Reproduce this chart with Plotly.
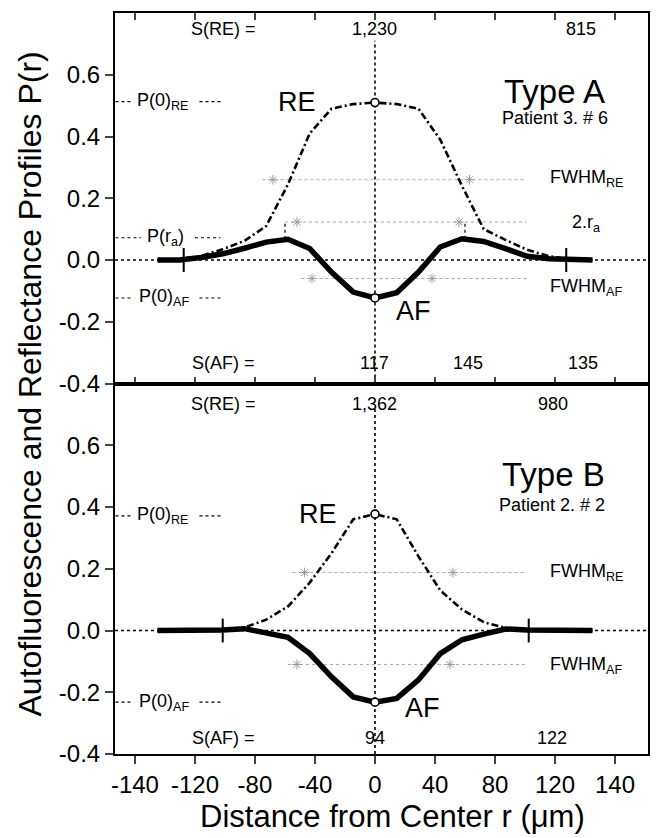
import plotly.graph_objects as go
from plotly.subplots import make_subplots

# ---------------- data ----------------
r = [-145, -130.5, -116, -101.5, -87, -72.5, -58, -43.5, -29, -14.5, 0,
     14.5, 29, 43.5, 58, 72.5, 87, 101.5, 116, 130.5, 145]

re_a = [0, 0.003, 0.013, 0.035, 0.062, 0.11, 0.245, 0.41, 0.49, 0.505, 0.51,
        0.505, 0.49, 0.39, 0.24, 0.10, 0.065, 0.033, 0.012, 0.002, 0]
af_a = [0, 0, 0.008, 0.02, 0.038, 0.058, 0.067, 0.037, -0.039, -0.104, -0.123,
        -0.106, -0.039, 0.042, 0.069, 0.06, 0.037, 0.012, 0.004, 0, 0]

re_b = [0, 0, 0, 0.002, 0.01, 0.035, 0.078, 0.155, 0.25, 0.36, 0.377,
        0.36, 0.24, 0.13, 0.068, 0.027, 0.008, 0, 0, 0, 0]
af_b = [0, 0, 0, 0.002, 0.006, -0.006, -0.022, -0.075, -0.15, -0.215, -0.232,
        -0.22, -0.16, -0.075, -0.03, -0.012, 0.005, 0.002, 0, 0, 0]

x_tickvals = [-160, -120, -80, -40, 0, 40, 80, 120, 160]
x_ticktext = ["-140", "-120", "-80", "-40", "0", "40", "80", "120", "140"]
y_tickvals = [-0.4, -0.2, 0.0, 0.2, 0.4, 0.6]
y_ticktext = ["-0.4", "-0.2", "0.0", "0.2", "0.4", "0.6"]

cross_a = [-127.5, 127.5]
cross_b = [-101.5, 102.5]

# FWHM guide lines: (level, start, end)
guides_a = [(0.26, -75, 101), (0.123, -60, 101), (-0.06, -49, 101)]
guides_b = [(0.188, -55, 101), (-0.11, -58, 101)]
scrib_a_x = [-68, 63, -52, 56, -42, 38]
scrib_a_y = [0.26, 0.26, 0.123, 0.123, -0.06, -0.06]
scrib_b_x = [-47, 52, -52, 50]
scrib_b_y = [0.188, 0.188, -0.11, -0.11]

FONT = "Liberation Sans, Arial, Helvetica, sans-serif"
XR = [-173.3, 182]
YR = [-0.4, 0.8]

fig = make_subplots(rows=2, cols=1, shared_xaxes=False, vertical_spacing=0)


def line(row, xs, ys, color="black", width=1.5, dash="dot"):
    fig.add_trace(go.Scatter(x=xs, y=ys, mode="lines", showlegend=False,
                             hoverinfo="skip",
                             line=dict(color=color, width=width, dash=dash)),
                  row=row, col=1)


for row, re_v, af_v, cross, guides, sx, sy, p0re, p0af in [
        (1, re_a, af_a, cross_a, guides_a, scrib_a_x, scrib_a_y, 0.513, -0.123),
        (2, re_b, af_b, cross_b, guides_b, scrib_b_x, scrib_b_y, 0.371, -0.232)]:
    # zero lines
    line(row, XR, [0, 0], width=1.6, dash="dot")
    line(row, [0, 0], [-0.4, 0.71 if row == 1 else 0.72], width=1.6, dash="dot")
    # guides
    for lv, a, b in guides:
        line(row, [a, b], [lv, lv], color="#a8a8a8", width=1, dash="dot")
    fig.add_trace(go.Scatter(x=sx, y=sy, mode="markers", showlegend=False,
                             hoverinfo="skip",
                             marker=dict(symbol="asterisk-open", size=8,
                                         color="#9a9a9a",
                                         line=dict(color="#9a9a9a", width=1))),
                  row=row, col=1)
    # leader lines for labels
    for lv in (p0re, p0af):
        line(row, [-173, -162], [lv, lv], width=1.2)
        line(row, [-117, -101], [lv, lv], width=1.2)
    # curves
    fig.add_trace(go.Scatter(x=r, y=re_v, mode="lines", showlegend=False,
                             line=dict(color="black", width=2.6,
                                       dash="7px,3px,2px,3px")),
                  row=row, col=1)
    fig.add_trace(go.Scatter(x=r, y=af_v, mode="lines", showlegend=False,
                             line=dict(color="black", width=5.5)),
                  row=row, col=1)
    fig.add_trace(go.Scatter(x=cross, y=[0, 0], mode="markers", showlegend=False,
                             marker=dict(symbol="line-ns-open", size=17,
                                         color="black",
                                         line=dict(color="black", width=2))),
                  row=row, col=1)
    fig.add_trace(go.Scatter(x=[0, 0], y=[re_v[10], af_v[10]], mode="markers",
                             showlegend=False,
                             marker=dict(symbol="circle", size=8, color="white",
                                         line=dict(color="black", width=1.6))),
                  row=row, col=1)

# extra items in panel A: P(ra) leader and short verticals
line(1, [-173, -156], [0.072, 0.072], width=1.2)
line(1, [-120, -103], [0.072, 0.072], width=1.2)
line(1, [-60, -60], [0.069, 0.123], width=1.2)
line(1, [60, 60], [0.069, 0.123], width=1.2)

ann = []


def txt(row, x, y, s, size=18, xanchor="center"):
    ann.append(dict(x=x, y=y, xref="x" if row == 1 else "x2",
                    yref="y" if row == 1 else "y2", text=s, showarrow=False,
                    xanchor=xanchor, yanchor="middle",
                    font=dict(family=FONT, size=size, color="black")))


# panel A
txt(1, -101.3, 0.748, "S(RE) =")
txt(1, 0, 0.748, "1,230")
txt(1, 137.3, 0.748, "815")
txt(1, -160, 0.513, "P(0)<sub>RE</sub>", 18, "left")
txt(1, -52, 0.513, "RE", 27)
txt(1, 120, 0.545, "Type A", 33)
txt(1, 120, 0.461, "Patient 3. # 6", 18)
txt(1, 115.3, 0.265, "FWHM<sub>RE</sub>", 18, "left")
txt(1, 141, 0.119, "2.r<sub>a</sub>", 18)
txt(1, -153, 0.074, "P(r<sub>a</sub>)", 18, "left")
txt(1, -158.7, -0.123, "P(0)<sub>AF</sub>", 18, "left")
txt(1, 115.3, -0.09, "FWHM<sub>AF</sub>", 18, "left")
txt(1, 26, -0.165, "AF", 27)
txt(1, -101.3, -0.332, "S(AF) =")
txt(1, 0, -0.332, "117")
txt(1, 62, -0.332, "145")
txt(1, 138.7, -0.332, "135")
# panel B
txt(2, -101.3, 0.735, "S(RE) =")
txt(2, 0, 0.735, "1,362")
txt(2, 118.7, 0.735, "980")
txt(2, 118.7, 0.506, "Type B", 33)
txt(2, 118, 0.406, "Patient 2. # 2", 18)
txt(2, -160, 0.371, "P(0)<sub>RE</sub>", 18, "left")
txt(2, -38, 0.377, "RE", 27)
txt(2, 115.3, 0.187, "FWHM<sub>RE</sub>", 18, "left")
txt(2, 115.3, -0.113, "FWHM<sub>AF</sub>", 18, "left")
txt(2, -158.7, -0.232, "P(0)<sub>AF</sub>", 18, "left")
txt(2, 32, -0.252, "AF", 27)
txt(2, -101.3, -0.348, "S(AF) =")
txt(2, 0, -0.348, "94")
txt(2, 118, -0.348, "122")

# axis titles
ann.append(dict(x=0.52, y=-0.085, xref="paper", yref="paper",
                text="Distance from Center r (\u03bcm)", showarrow=False,
                xanchor="center", yanchor="middle",
                font=dict(family=FONT, size=31, color="black")))
ann.append(dict(x=-0.1595, y=0.5, xref="paper", yref="paper",
                text="Autofluorescence and Reflectance Profiles P(r)",
                showarrow=False, textangle=-90, xanchor="center",
                yanchor="middle",
                font=dict(family=FONT, size=32, color="black")))

xcommon = dict(range=XR, tickvals=x_tickvals, ticktext=x_ticktext,
               showgrid=False, zeroline=False, showline=True,
               linecolor="black", linewidth=2,
               tickfont=dict(family=FONT, size=24, color="black"))
fig.update_xaxes(**xcommon, ticks="inside", ticklen=7, tickwidth=2,
                 mirror="ticks", showticklabels=False, row=1, col=1)
fig.update_xaxes(**xcommon, ticks="outside", ticklen=8, tickwidth=2,
                 mirror=True, showticklabels=True, row=2, col=1)
fig.update_yaxes(range=YR, tickvals=y_tickvals, ticktext=y_ticktext,
                 showgrid=False, zeroline=False, showline=True,
                 linecolor="black", linewidth=2, mirror=True,
                 ticks="outside", ticklen=8, tickwidth=2,
                 tickfont=dict(family=FONT, size=24, color="black"))

# page body has an 8px default margin; size the figure to fit the window
fig.update_layout(width=651, height=830, margin=dict(l=107, r=11, t=3, b=84),
                  paper_bgcolor="white", plot_bgcolor="white",
                  showlegend=False, annotations=ann,
                  font=dict(family=FONT, color="black"))

fig.write_html("out.html")
